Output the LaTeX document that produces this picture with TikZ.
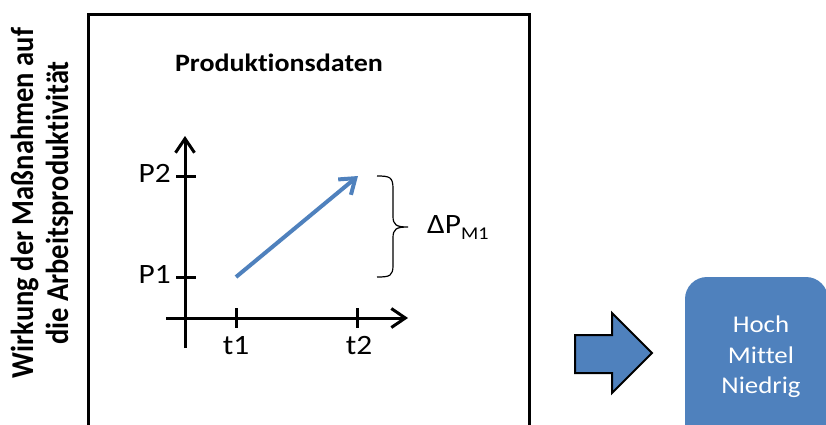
\documentclass[tikz,border=0pt]{standalone}
\usepackage{fontspec}
\setmainfont{Carlito}[FakeStretch=1.12,Ligatures=NoCommon]
\newfontfamily\plainfont{Carlito}[Ligatures=NoCommon]
\usetikzlibrary{arrows.meta}
\definecolor{officeblue}{HTML}{4F81BD}
\begin{document}
\begin{tikzpicture}[x=1pt,y=-1pt,
  frameline/.style={line width=3pt,black},
  axisline/.style={line width=3pt,black,-{Straight Barb[length=14pt,width=19pt]}},
  tickline/.style={line width=3pt,black},
  ticklabel/.style={inner sep=0pt,font=\fontsize{28}{30}\selectfont},
  trendarrow/.style={line width=4pt,officeblue,-{Straight Barb[length=14pt,width=20pt]}},
  bracepath/.style={line width=1.2pt,black},
  blockarrow/.style={fill=officeblue,draw=black,line width=2pt,line join=miter},
  ratingbox/.style={fill=officeblue,rounded corners=22pt},
  ]
\useasboundingbox (0,0) rectangle (826,424);
\clip (0,0) rectangle (826,424);

% frame
\coordinate (fbl) at (88,470);
\coordinate (ftl) at (88,14);
\coordinate (ftr) at (529,14);
\coordinate (fbr) at (529,470);
\draw[frameline] (fbl) -- (ftl) -- (ftr) -- (fbr);

% vertical title
\node[inner sep=0pt,rotate=90] (vtitle) at (42,203)
  {\scalebox{1}[1.12]{\parbox{500pt}{\centering\plainfont\bfseries\fontsize{28.5}{31.3}\selectfont Wirkung der Maßnahmen auf\\ die Arbeitsproduktivität}}};

% heading
\node[inner sep=0pt,anchor=base,font=\bfseries\fontsize{25}{28}\selectfont] (head) at (279,71) {Produktionsdaten};

% axes
\coordinate (yb) at (185,348);
\coordinate (yt) at (185,136);
\coordinate (xl) at (166,318);
\coordinate (xr) at (408,318);
\draw[axisline] (yb) -- (yt);
\draw[axisline] (xl) -- (xr);

% ticks
\coordinate (p2a) at (176,176); \coordinate (p2b) at (196,176);
\coordinate (p1a) at (176,277); \coordinate (p1b) at (196,277);
\coordinate (t1a) at (236,308); \coordinate (t1b) at (236,328);
\coordinate (t2a) at (357,308); \coordinate (t2b) at (357,328);
\draw[tickline] (p2a) -- (p2b);
\draw[tickline] (p1a) -- (p1b);
\draw[tickline] (t1a) -- (t1b);
\draw[tickline] (t2a) -- (t2b);

\node[ticklabel,anchor=base east] (lp2) at (171,182) {P2};
\node[ticklabel,anchor=base east] (lp1) at (171,283) {P1};
\node[ticklabel,anchor=base] (lt1) at (236,354) {t1};
\node[ticklabel,anchor=base] (lt2) at (359,354) {t2};

% trend arrow
\coordinate (ts) at (236,277);
\coordinate (te) at (358,176);
\draw[trendarrow] (ts) -- (te);

% brace
\coordinate (bt) at (377,176);
\coordinate (bm) at (408,227);
\coordinate (bb) at (377,277);
\draw[bracepath] (bt) .. controls (390,176) and (393,177) .. (393,189) -- (393,216)
  .. controls (393,225) and (396,227) .. (bm)
  .. controls (396,227) and (393,229) .. (393,238) -- (393,265)
  .. controls (393,276) and (390,277) .. (bb);
\node[inner sep=0pt,anchor=base west,font=\fontsize{28}{30}\selectfont] (dp) at (427,233)
  {ΔP\raisebox{-6pt}{\fontsize{18}{19}\selectfont M1}};

% block arrow
\draw[blockarrow] (575,335) -- (612,335) -- (612,313) -- (652,353) -- (612,393) -- (612,373) -- (575,373) -- cycle;

% rating box
\fill[ratingbox] (685,277) rectangle (828,470);
\node[inner sep=0pt,align=center,text=white,font=\fontsize{24}{30.5}\selectfont] (rating) at (761,357)
  {Hoch\\Mittel\\Niedrig};
\end{tikzpicture}
\end{document}
